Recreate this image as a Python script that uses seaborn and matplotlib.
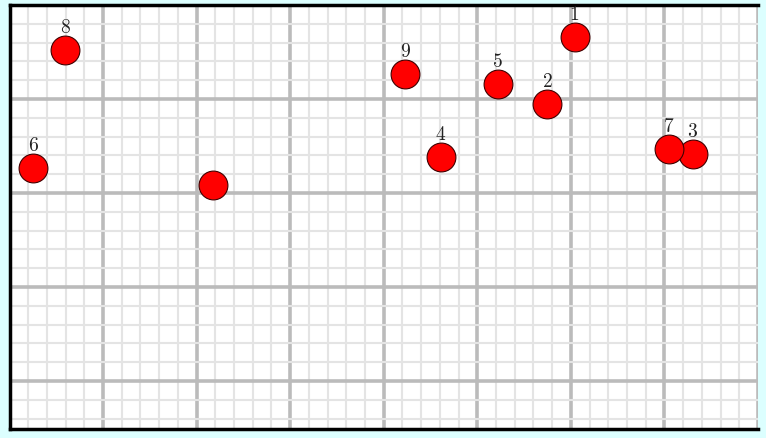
import matplotlib
matplotlib.use("Agg")
import matplotlib.pyplot as plt
import seaborn as sns
import pandas as pd
import numpy as np

labels = ["1", "2", "3", "4", "5", "6", "7", "8", "9", ""]
x_vals = [6.04, 5.75, 7.30, 4.61, 5.22, 0.25, 7.05, 0.59, 4.23, 2.18]
y_vals = [0.34, 1.053, 1.585, 1.617, 0.84, 1.734, 1.53, 0.479, 0.734, 1.915]

df = pd.DataFrame({"label": labels, "x": x_vals, "y": y_vals})

sns.set_style("white")
fig = plt.figure(figsize=(7.66, 4.39), dpi=100)
fig.patch.set_facecolor("#dcffff")
ax = fig.add_axes([9.5 / 766, 9 / 439, (758 - 9.5) / 766, (433 - 9) / 439])
ax.set_facecolor("white")

sns.scatterplot(data=df, x="x", y="y", ax=ax, color="#ff0000",
                edgecolor="#400000", linewidth=0.8, s=430, zorder=3, clip_on=False)

ax.set_xlim(0, 748.5 / 94)
ax.set_ylim(424 / 94, 0)
ax.set_xticks(np.arange(0, 8.01, 1))
ax.set_yticks(np.arange(0, 4.6, 1))
ax.set_xticks(np.arange(0, 8.01, 0.2), minor=True)
ax.set_yticks(np.arange(0, 4.6, 0.2), minor=True)
ax.grid(True, which="minor", color="#e4e4e4", linewidth=1.5)
ax.grid(True, which="major", color="#bbbbbb", linewidth=2.6)
ax.set_axisbelow(True)
ax.tick_params(which="both", length=0, labelbottom=False, labelleft=False)

for lab, xv, yv in zip(labels, x_vals, y_vals):
    if lab:
        ax.annotate(lab, (xv, yv), xytext=(0, 13), textcoords="offset points",
                    ha="center", va="baseline", fontsize=14, family="cmr10",
                    color="#222222", zorder=4)

ax.set_xlabel("")
ax.set_ylabel("")
for side in ["left", "top", "bottom"]:
    ax.spines[side].set_visible(True)
    ax.spines[side].set_color("black")
    ax.spines[side].set_linewidth(2.5)
ax.spines["right"].set_visible(False)

fig.savefig("out.png", dpi=100, facecolor=fig.get_facecolor())
